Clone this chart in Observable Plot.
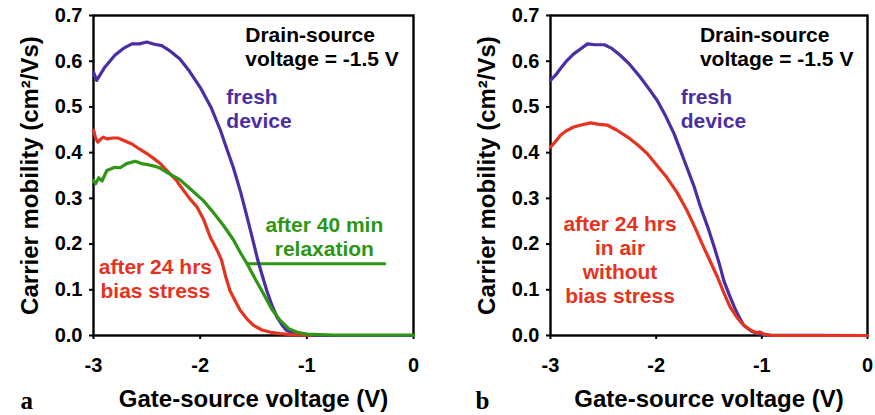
<!DOCTYPE html>
<html>
<head>
<meta charset="utf-8">
<script src="https://cdn.jsdelivr.net/npm/d3@7"></script>
<script src="https://cdn.jsdelivr.net/npm/@observablehq/plot@0.6"></script>
<style>
  html, body { margin: 0; padding: 0; background: #fff; }
  #wrap { display: flex; width: 875px; height: 415px; }
</style>
</head>
<body>
<div id="wrap"></div>
<script>
// ---- data (gate-source voltage V, carrier mobility cm²/Vs) ----
const xTicks = [-3, -2, -1, 0];
const yTicks = [0, 0.1, 0.2, 0.3, 0.4, 0.5, 0.6, 0.7];

const freshA_v = [-3.00,-2.97,-2.90,-2.80,-2.72,-2.64,-2.57,-2.50,-2.43,-2.36,-2.28,-2.19,-2.10,-2.00,-1.90,-1.81,-1.75,-1.69,-1.62,-1.56,-1.50,-1.46,-1.42,-1.375,-1.33,-1.28,-1.23,-1.19,-1.12,-1.06,-0.90,0];
const freshA_mu = [0.576,0.558,0.585,0.613,0.628,0.638,0.638,0.642,0.637,0.634,0.622,0.605,0.578,0.543,0.500,0.449,0.408,0.368,0.313,0.259,0.203,0.165,0.133,0.098,0.068,0.040,0.022,0.011,0.005,0.002,0.000,0.000];

const stressA_v = [-3.00,-2.98,-2.96,-2.93,-2.91,-2.87,-2.82,-2.77,-2.70,-2.64,-2.57,-2.50,-2.44,-2.375,-2.30,-2.22,-2.19,-2.10,-2.03,-1.97,-1.905,-1.84,-1.80,-1.76,-1.72,-1.67,-1.625,-1.56,-1.50,-1.42,-1.34,-1.25,-1.15,-0.95];
const stressA_mu = [0.449,0.432,0.423,0.430,0.434,0.430,0.432,0.432,0.425,0.419,0.408,0.398,0.388,0.376,0.358,0.339,0.328,0.300,0.281,0.255,0.215,0.186,0.165,0.128,0.098,0.075,0.055,0.036,0.022,0.012,0.007,0.004,0.002,0.001];

const relaxA_v = [-3.00,-2.98,-2.95,-2.92,-2.875,-2.80,-2.75,-2.69,-2.61,-2.55,-2.50,-2.42,-2.375,-2.30,-2.19,-2.10,-1.97,-1.88,-1.78,-1.69,-1.62,-1.56,-1.48,-1.405,-1.33,-1.25,-1.17,-1.09,-1.00,-0.75,0];
const relaxA_mu = [0.339,0.332,0.345,0.338,0.361,0.368,0.367,0.376,0.381,0.376,0.374,0.370,0.366,0.355,0.341,0.322,0.295,0.270,0.240,0.210,0.180,0.157,0.122,0.091,0.058,0.033,0.015,0.007,0.003,0.001,0.001];

const freshB_v = [-3.00,-2.95,-2.905,-2.85,-2.78,-2.71,-2.65,-2.58,-2.49,-2.42,-2.34,-2.25,-2.15,-2.07,-1.99,-1.91,-1.83,-1.77,-1.71,-1.64,-1.58,-1.51,-1.45,-1.40,-1.36,-1.31,-1.26,-1.21,-1.17,-1.10,-1.04,-0.95,0];
const freshB_mu = [0.558,0.570,0.584,0.600,0.616,0.628,0.638,0.636,0.636,0.628,0.613,0.593,0.565,0.540,0.514,0.480,0.441,0.405,0.368,0.325,0.281,0.236,0.193,0.155,0.120,0.090,0.062,0.038,0.022,0.010,0.004,0.001,0.000];

const airB_v = [-3.00,-2.95,-2.905,-2.85,-2.78,-2.70,-2.62,-2.54,-2.46,-2.37,-2.27,-2.18,-2.085,-2.00,-1.90,-1.80,-1.71,-1.63,-1.55,-1.48,-1.42,-1.36,-1.30,-1.23,-1.17,-1.10,-1.04,-1.02,-0.98,-0.90,0];
const airB_mu = [0.412,0.425,0.438,0.448,0.456,0.461,0.465,0.462,0.460,0.449,0.434,0.418,0.398,0.374,0.346,0.312,0.274,0.235,0.193,0.158,0.128,0.094,0.062,0.038,0.022,0.011,0.005,0.008,0.003,0.000,0.000];

// leader line for "after 40 min relaxation"
const leaderA_v = [-1.56, -0.27];
const leaderA_mu = [0.157, 0.157];

// ---- styles ----
const C_FRESH = "#4b2ea6";
const C_RED = "#e5331f";
const C_GREEN = "#2e9614";
const SANS = "'Liberation Sans', Arial, Helvetica, sans-serif";
const SERIF = "'Liberation Serif', 'Times New Roman', serif";

const toRows = (xs, ys) => xs.map((x, i) => ({x, y: ys[i]}));

function panel({width, marginLeft, marginRight, series, annotations, leader, letter}) {
  const marks = [
    Plot.frame({stroke: "black", strokeWidth: 2.4}),
    Plot.axisX({ticks: xTicks, tickSize: 4, tickPadding: 18, tickFormat: d => String(d),
      fontSize: 20, fontWeight: "bold", label: null, strokeWidth: 2}),
    Plot.axisY({ticks: yTicks, tickSize: 4, tickPadding: 7, tickFormat: d3.format(".1f"),
      fontSize: 20, fontWeight: "bold", label: null, strokeWidth: 2}),
  ];
  if (leader) marks.push(Plot.line(toRows(leader.xs, leader.ys), {x: "x", y: "y", stroke: leader.color, strokeWidth: 3}));
  for (const s of series) {
    marks.push(Plot.line(toRows(s.xs, s.ys), {x: "x", y: "y", stroke: s.color, strokeWidth: 3.2, strokeLinejoin: "round"}));
  }
  for (const a of annotations) {
    marks.push(Plot.text([a.text], {x: () => a.x, y: () => a.y, text: d => d, fill: a.color,
      textAnchor: a.anchor, lineAnchor: "bottom", lineHeight: 1.143, fontSize: 21, fontWeight: "bold"}));
  }
  marks.push(Plot.text(["Carrier mobility (cm²/Vs)"], {frameAnchor: "left", dx: -63, rotate: -90,
    text: d => d, fontSize: 24, fontWeight: "bold", lineAnchor: "middle", textAnchor: "middle", fill: "black"}));
  marks.push(Plot.text(["Gate-source voltage (V)"], {frameAnchor: "bottom", dy: 71,
    text: d => d, fontSize: 24, fontWeight: "bold", lineAnchor: "bottom", fill: "black"}));
  marks.push(Plot.text([letter.text], {frameAnchor: "bottom-left", dx: letter.dx, dy: 73,
    text: d => d, fontSize: 25, fontWeight: "bold", fontFamily: SERIF, lineAnchor: "bottom", textAnchor: "start", fill: "black"}));

  return Plot.plot({
    width, height: 415,
    marginLeft, marginRight, marginTop: 15, marginBottom: 80,
    x: {domain: [-3, 0]},
    y: {domain: [0, 0.7]},
    style: {fontFamily: SANS, background: "white", color: "black", overflow: "visible"},
    marks
  });
}

const left = panel({
  width: 437, marginLeft: 93, marginRight: 24,
  series: [
    {xs: freshA_v, ys: freshA_mu, color: C_FRESH},
    {xs: stressA_v, ys: stressA_mu, color: C_RED},
    {xs: relaxA_v, ys: relaxA_mu, color: C_GREEN}
  ],
  leader: {xs: leaderA_v, ys: leaderA_mu, color: C_GREEN},
  annotations: [
    {text: "Drain-source\nvoltage = -1.5 V", x: -1.577, y: 0.589, anchor: "start", color: "black"},
    {text: "fresh\ndevice", x: -1.755, y: 0.453, anchor: "start", color: C_FRESH},
    {text: "after 40 min\nrelaxation", x: -0.836, y: 0.175, anchor: "middle", color: C_GREEN},
    {text: "after 24 hrs\nbias stress", x: -2.42, y: 0.081, anchor: "middle", color: C_RED}
  ],
  letter: {text: "a", dx: -73}
});

const right = panel({
  width: 438, marginLeft: 113, marginRight: 8,
  series: [
    {xs: freshB_v, ys: freshB_mu, color: C_FRESH},
    {xs: airB_v, ys: airB_mu, color: C_RED}
  ],
  leader: null,
  annotations: [
    {text: "Drain-source\nvoltage = -1.5 V", x: -1.586, y: 0.589, anchor: "start", color: "black"},
    {text: "fresh\ndevice", x: -1.768, y: 0.453, anchor: "start", color: C_FRESH},
    {text: "after 24 hrs\nin air\nwithout\nbias stress", x: -2.342, y: 0.072, anchor: "middle", color: C_RED}
  ],
  letter: {text: "b", dx: -75}
});

document.getElementById("wrap").append(left, right);
</script>
</body>
</html>
